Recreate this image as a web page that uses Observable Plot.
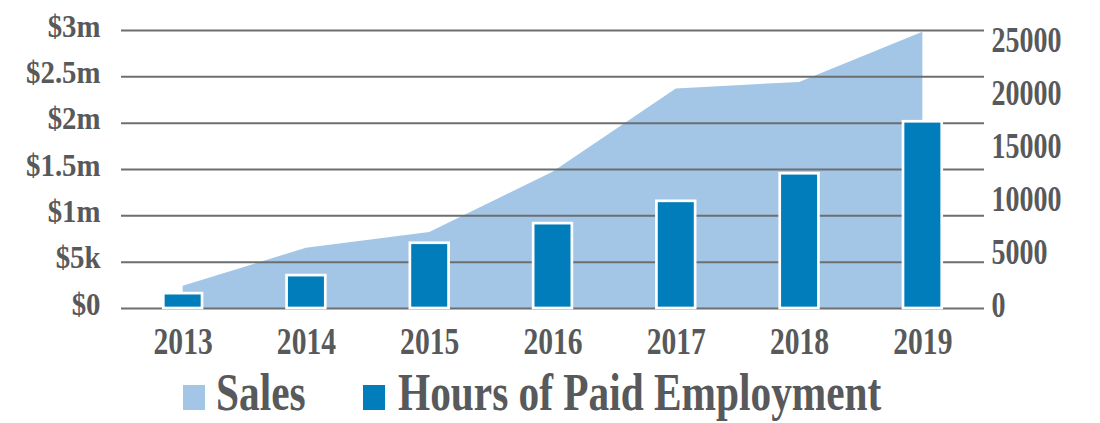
<!DOCTYPE html>
<html><head><meta charset="utf-8">
<script src="https://cdn.jsdelivr.net/npm/d3@7"></script>
<script src="https://cdn.jsdelivr.net/npm/@observablehq/plot@0.6"></script>
<style>body{margin:0;background:#fff} svg{display:block}</style>
</head><body><div id="chart"></div>
<script>
const years = [2013, 2014, 2015, 2016, 2017, 2018, 2019];
const sales = [0.24, 0.65, 0.82, 1.47, 2.37, 2.44, 2.98]; // $ millions
const hours = [1400, 3100, 6150, 8000, 10100, 12700, 17600];
const leftTicks = [0, 0.5, 1, 1.5, 2, 2.5, 3];
const leftLabels = ["$0", "$5k", "$1m", "$1.5m", "$2m", "$2.5m", "$3m"];
const rightTicks = [0, 5000, 10000, 15000, 20000, 25000];
const seriesNames = ["Sales", "Hours of Paid Employment"];
const seriesColors = ["#a3c6e6", "#007dba"];

const hoursMax = 26200, salesMax = 3;
const k = salesMax / hoursMax;
const rightScaled = rightTicks.map(v => v * k);
const data = years.map((year, i) => ({year, sales: sales[i], hours: hours[i]}));
const halfBar = 0.157;
const textColor = "#58595b";

const plot = Plot.plot({
  width: 1100, height: 362,
  marginTop: 30, marginBottom: 54, marginLeft: 121, marginRight: 116,
  style: {fontFamily: "'Liberation Serif', serif", fontWeight: "bold", color: textColor, background: "#fff", overflow: "visible"},
  x: {type: "linear", domain: [2012.5, 2019.5], label: null},
  y: {domain: [0, salesMax], label: null},
  marks: [
    Plot.areaY(data, {x: "year", y: "sales", fill: seriesColors[0]}),
    Plot.ruleY(leftTicks, {stroke: "#6d6e70", strokeWidth: 2}),
    Plot.rectY(data, {x1: d => d.year - halfBar, x2: d => d.year + halfBar, y1: 0, y2: d => d.hours * k,
      fill: seriesColors[1], stroke: "#fff", strokeWidth: 2.7}),
    Plot.axisX(years, {tickSize: 0, tickPadding: 19, tickFormat: d => String(d), fontSize: 37, fill: textColor, label: null}),
    Plot.axisY(leftTicks, {anchor: "left", tickSize: 0, tickPadding: 21,
      tickFormat: d => leftLabels[leftTicks.indexOf(d)], fontSize: 32, dy: -4, fill: textColor, label: null}),
    Plot.axisY(rightScaled, {anchor: "right", tickSize: 0, tickPadding: 7,
      tickFormat: d => String(rightTicks[rightScaled.indexOf(d)]), fontSize: 35, dy: -2.5, fill: textColor, label: null})
  ]
});

// condense the serif text horizontally (scale about each label's anchor point)
plot.querySelectorAll("g[aria-label$='tick label']").forEach(g => {
  const anchor = g.getAttribute("text-anchor");
  const isX = g.getAttribute("aria-label").startsWith("x");
  const s = isX ? 0.8 : anchor === "end" ? 0.9 : 0.8;
  g.querySelectorAll("text").forEach(t => {
    const tr = t.getAttribute("transform") || "";
    t.setAttribute("transform", `${tr} scale(${s},1)`);
  });
});
document.getElementById("chart").appendChild(plot);

// legend below the chart
const legend = d3.select("#chart").append("svg").attr("width", 1100).attr("height", 61)
  .style("font-family", "'Liberation Serif', serif").style("font-weight", "bold");
const legendItems = [
  {name: seriesNames[0], color: seriesColors[0], sx: 183, tx: 216},
  {name: seriesNames[1], color: seriesColors[1], sx: 363, tx: 398}
];
legendItems.forEach(it => {
  legend.append("rect").attr("x", it.sx).attr("y", 23).attr("width", 22).attr("height", 25).attr("fill", it.color);
  legend.append("text").attr("transform", `translate(${it.tx},48) scale(0.78,1)`)
    .attr("font-size", 53).attr("fill", textColor).text(it.name);
});
</script>
</body></html>
